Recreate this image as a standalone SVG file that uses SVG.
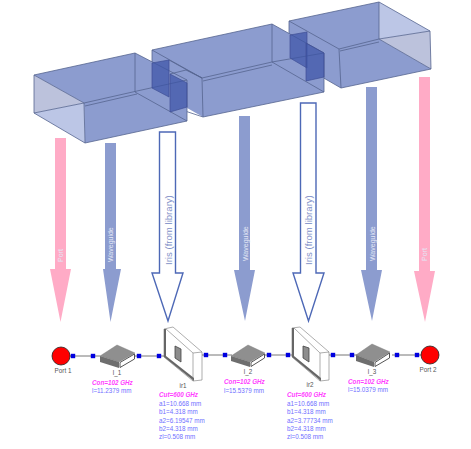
<svg xmlns="http://www.w3.org/2000/svg" width="471" height="449" viewBox="0 0 471 449">
<style>
text{font-family:"Liberation Sans",Arial,sans-serif}
.f{fill:#8c9ccf;stroke:none}
.fl{fill:#bcc6e6;stroke:none}
.fg{fill:#bcc2dc;stroke:none}
.e{fill:none;stroke:#56648f;stroke-width:.8}
.ir{fill:#3a52a6;fill-opacity:.7;stroke:#3f4f95;stroke-width:.7}
.wg{fill:#8c9ccf}
.pt{fill:#ffabc6}
.ia{fill:#fff;stroke:#4d68b6;stroke-width:1.4}
.al{font-size:7px;fill:#e4e8f6}
.ial{font-size:9.600px;fill:#7f90c8}
.s{fill:#0000e0}
.c{stroke:#777;stroke-width:1;fill:none}
.n{font-size:6.300px;fill:#555}
.m{font-size:6.300px;font-weight:bold;font-style:italic;fill:#ff40ff}
.v{font-size:6.300px;fill:#6f6fff}
.top{fill:#8f8f8f;stroke:#777;stroke-width:.4}
.side{fill:#6e6e6e}
.mouth{fill:#fff;stroke:#555;stroke-width:1}
.wall{fill:#fff;stroke:#777;stroke-width:.6}
.shade{fill:#666}
.rim{fill:none;stroke:#777;stroke-width:.6}
.hole{fill:#8d8d8d;stroke:#444;stroke-width:.8}
</style>
<g id="waveguide-3">
<polygon class="f" points="289,21 379,2 379,39 431,69 341,88 289,58"/>
<polygon class="fl" points="379,2 430,31 379,39"/>
<polygon class="fg" points="379,39 430,31 431,69"/>
<path class="e" d="M289,21L379,2L430,31L431,69L341,88L339,49L289,21V58L341,88M379,2V39L431,69M339,49L379,39L430,31M340,51L379,42" />
</g>
<g id="waveguide-2">
<polygon class="f" points="152,50 272,24 324,53 324,92 203,117 152,88"/>
<path class="e" d="M152,50L272,24L324,53V92L203,117L202,78L152,50V100L203,117M272,24V62L324,92M202,78L272,62L324,53M203,81L272,65M169,60L187,70L202,78M152,100L169,97"/>
</g>
<g id="waveguide-1">
<polygon class="f" points="34,75 135,53 187,80 187,121 85,143 84,103"/>
<polygon class="fg" points="34,75 84,103 34,113"/>
<polygon class="fl" points="34,113 84,103 85,143"/>
<path class="e" d="M34,75L135,53L187,80V121L85,143L84,103L34,75V113L85,143M34,113L84,103L137,91L187,80M85,106L137,94M135,53V92L187,121M170,74L186,70L202,78"/>
</g>
<g id="iris-3d-1">
<polygon class="ir" points="152,63 169,60 169,97 152,88"/>
<polygon class="ir" points="170,74 187,83 187,107 170,112"/>
</g>
<g id="iris-3d-2">
<polygon class="ir" points="290,35 307,32 307,68 290,58"/>
<polygon class="ir" points="306,43 324,53 324,77 306,81"/>
</g>
<g id="arrow-port-1">
<polygon class="pt" points="55,138 66,138 66,269 71,269 60.500,322 50,269 55,269"/>
<text class="al" transform="translate(62.500,262) rotate(-90)">Port</text>
</g>
<g id="arrow-waveguide-1">
<polygon class="wg" points="105,143 116,143 116,269 121,269 110.500,322 103,269 105,269"/>
<text class="al" transform="translate(112.500,262) rotate(-90)">Waveguide</text>
</g>
<g id="arrow-iris-1">
<polygon class="ia" points="159.500,132 175.500,132 175.500,273 183,273 168,321 152,273 159.500,273"/>
<text class="ial" transform="translate(171.500,265) rotate(-90)">Iris (from library)</text>
</g>
<g id="arrow-waveguide-2">
<polygon class="wg" points="239,116 250,116 250,270 255,270 245,321 234,270 239,270"/>
<text class="al" transform="translate(247.500,261) rotate(-90)">Waveguide</text>
</g>
<g id="arrow-iris-2">
<polygon class="ia" points="300.500,103 316,103 316,273 324,273 308.500,321 293,273 300.500,273"/>
<text class="ial" transform="translate(312,265) rotate(-90)">Iris (from library)</text>
</g>
<g id="arrow-waveguide-3">
<polygon class="wg" points="366,87 377,87 377,270 382,270 372,321 361,270 366,270"/>
<text class="al" transform="translate(374.500,261) rotate(-90)">Waveguide</text>
</g>
<g id="arrow-port-2">
<polygon class="pt" points="419,77 430,77 430,271 435,271 425,322 414,271 419,271"/>
<text class="al" transform="translate(426.500,261) rotate(-90)">Port</text>
</g>
<g id="connectors">
<path class="c" d="M70,356H100M135,356H165M200,355H232M264,355H296M329,355H360M392,355H421"/>
<rect class="s" x="70.800" y="353.800" width="4.400" height="4.400"/>
<rect class="s" x="90.800" y="353.800" width="4.400" height="4.400"/>
<rect class="s" x="136.800" y="353.800" width="4.400" height="4.400"/>
<rect class="s" x="156.800" y="353.800" width="4.400" height="4.400"/>
<rect class="s" x="203.800" y="352.800" width="4.400" height="4.400"/>
<rect class="s" x="222.800" y="352.800" width="4.400" height="4.400"/>
<rect class="s" x="266.800" y="352.800" width="4.400" height="4.400"/>
<rect class="s" x="285.800" y="352.800" width="4.400" height="4.400"/>
<rect class="s" x="330.800" y="352.800" width="4.400" height="4.400"/>
<rect class="s" x="349.800" y="352.800" width="4.400" height="4.400"/>
<rect class="s" x="394.800" y="352.800" width="4.400" height="4.400"/>
<rect class="s" x="414.800" y="352.800" width="4.400" height="4.400"/>
</g>
<g id="port-1">
<circle cx="61" cy="356" r="9" fill="#f00" stroke="#222" stroke-width=".8"/>
<text class="n" x="63" y="373" text-anchor="middle">Port 1</text>
</g>
<g id="l_1">
<polygon class="top" points="100,356 117,345 135,353 119,362"/>
<polygon class="side" points="100,356 119,362 119,368 100,362"/>
<polygon class="mouth" points="120,362.500 134.500,354 134.500,359 120,367.500"/>
<text class="n" x="117" y="375" text-anchor="middle">l_1</text>
<text class="m" x="92" y="385">Con=102 GHz</text>
<text class="v" x="92" y="393">l=11.2379 mm</text>
</g>
<g id="ir1">
<polygon class="wall" points="164,329 173,327 202,352 202,380 193,381 164,357"/>
<polygon class="shade" points="164,329 166,329 166,356 194,378 194,381 164,357"/>
<path class="rim" d="M193,353L202,352M193,353V381M166,329L193,353"/>
<polygon class="hole" points="175,346 181,349 181,362 175,358"/>
<text class="n" x="183" y="388" text-anchor="middle">ir1</text>
<text class="m" x="159" y="397">Cut=600 GHz</text>
<text class="v" x="159" y="405.700">a1=10.668 mm</text>
<text class="v" x="159" y="414">b1=4.318 mm</text>
<text class="v" x="159" y="422.700">a2=6.19547 mm</text>
<text class="v" x="159" y="431">b2=4.318 mm</text>
<text class="v" x="159" y="439.300">zl=0.508 mm</text>
</g>
<g id="l_2">
<polygon class="top" points="231,356 248,345 265,353 250,362"/>
<polygon class="side" points="231,356 250,362 250,367 231,361"/>
<polygon class="mouth" points="251,362.500 264.500,354 264.500,358 251,366.500"/>
<text class="n" x="248" y="374" text-anchor="middle">l_2</text>
<text class="m" x="224" y="384">Con=102 GHz</text>
<text class="v" x="224" y="393">l=15.5379 mm</text>
</g>
<g id="ir2">
<polygon class="wall" points="292,328 300,327 329,352 329,380 320,381 292,357"/>
<polygon class="shade" points="292,328 294,328 294,356 321,378 321,381 292,357"/>
<path class="rim" d="M320,353L329,352M320,353V381M294,328L320,353"/>
<polygon class="hole" points="303,346 309,348 309,362 303,358"/>
<text class="n" x="310" y="387" text-anchor="middle">ir2</text>
<text class="m" x="287" y="397">Cut=600 GHz</text>
<text class="v" x="287" y="405.700">a1=10.668 mm</text>
<text class="v" x="287" y="414">b1=4.318 mm</text>
<text class="v" x="287" y="422.700">a2=3.77734 mm</text>
<text class="v" x="287" y="431">b2=4.318 mm</text>
<text class="v" x="287" y="439.300">zl=0.508 mm</text>
</g>
<g id="l_3">
<polygon class="top" points="356,355 372,344 390,352 374,362"/>
<polygon class="side" points="356,355 374,362 374,367 356,361"/>
<polygon class="mouth" points="375,362.500 389.500,353 389.500,358 375,366.500"/>
<text class="n" x="372" y="374" text-anchor="middle">l_3</text>
<text class="m" x="348" y="384">Con=102 GHz</text>
<text class="v" x="348" y="392">l=15.0379 mm</text>
</g>
<g id="port-2">
<circle cx="430" cy="355" r="9" fill="#f00" stroke="#222" stroke-width=".8"/>
<text class="n" x="428" y="372" text-anchor="middle">Port 2</text>
</g>
</svg>
